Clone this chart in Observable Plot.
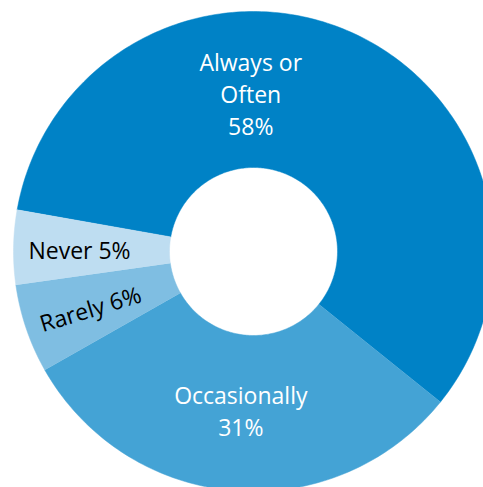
<!DOCTYPE html>
<html><head><meta charset="utf-8">
<script src="https://cdn.jsdelivr.net/npm/d3@7"></script>
<script src="https://cdn.jsdelivr.net/npm/@observablehq/plot@0.6"></script>
<style>body{margin:0;background:#fff;} svg{display:block;}</style>
</head><body><div id="chart"></div>
<script>
const categories = ["Always or Often", "Occasionally", "Rarely", "Never"];
const values = [58, 31, 6, 5];
const labelTexts = ["Always or\nOften\n58%", "Occasionally\n31%", "Rarely 6%", "Never 5%"];

const palette = ["#0082C6", "#44A3D5", "#7FBEE2", "#BEDDF1"];
const textColors = ["#ffffff", "#ffffff", "#000000", "#000000"];

const startDeg = -80;
const innerR = 84 / 240;
const total = d3.sum(values);
let acc = startDeg;
const slices = categories.map((c, i) => {
  const a0 = acc, a1 = acc + values[i] / total * 360;
  acc = a1;
  return {key: c, a0, a1, mid: (a0 + a1) / 2, i};
});
const rad = d => d * Math.PI / 180;
const pts = [];
slices.forEach(s => {
  const n = Math.max(8, Math.ceil(s.a1 - s.a0));
  for (let k = 0; k <= n; k++) {
    const a = rad(s.a0 + (s.a1 - s.a0) * k / n);
    pts.push({key: s.key, x: Math.sin(a), y: Math.cos(a)});
  }
  for (let k = n; k >= 0; k--) {
    const a = rad(s.a0 + (s.a1 - s.a0) * k / n);
    pts.push({key: s.key, x: innerR * Math.sin(a), y: innerR * Math.cos(a)});
  }
});

// label placement (polar, relative to slice)
const place = [
  {angle: -1, r: 0.66, rotate: 0},
  {angle: null, r: 0.66, rotate: 0},
  {angle: null, r: 0.72, rotate: -17},
  {angle: null, r: 0.725, rotate: 0}
];
const labels = slices.map((s, i) => {
  const ang = rad(place[i].angle == null ? s.mid : place[i].angle);
  return {text: labelTexts[i], x: place[i].r * Math.sin(ang), y: place[i].r * Math.cos(ang),
          rotate: place[i].rotate, color: textColors[i]};
});

const chart = Plot.plot({
  width: 483,
  height: 487,
  margin: 0,
  x: {domain: [-1, 1], range: [13, 493], axis: null},
  y: {domain: [-1, 1], range: [491, 11], axis: null},
  color: {domain: categories, range: palette},
  style: {background: "#fff"},
  marks: [
    Plot.line(pts, {x: "x", y: "y", z: "key", fill: "key", stroke: "key", strokeWidth: 0.5, curve: "linear"}),
    Plot.text(labels, {x: "x", y: "y", text: "text", rotate: "rotate", fill: "color",
      fontSize: 23, fontFamily: "Open Sans", lineHeight: 1.39, textAnchor: "middle"})
  ]
});
document.getElementById("chart").appendChild(chart);
</script>
</body></html>
